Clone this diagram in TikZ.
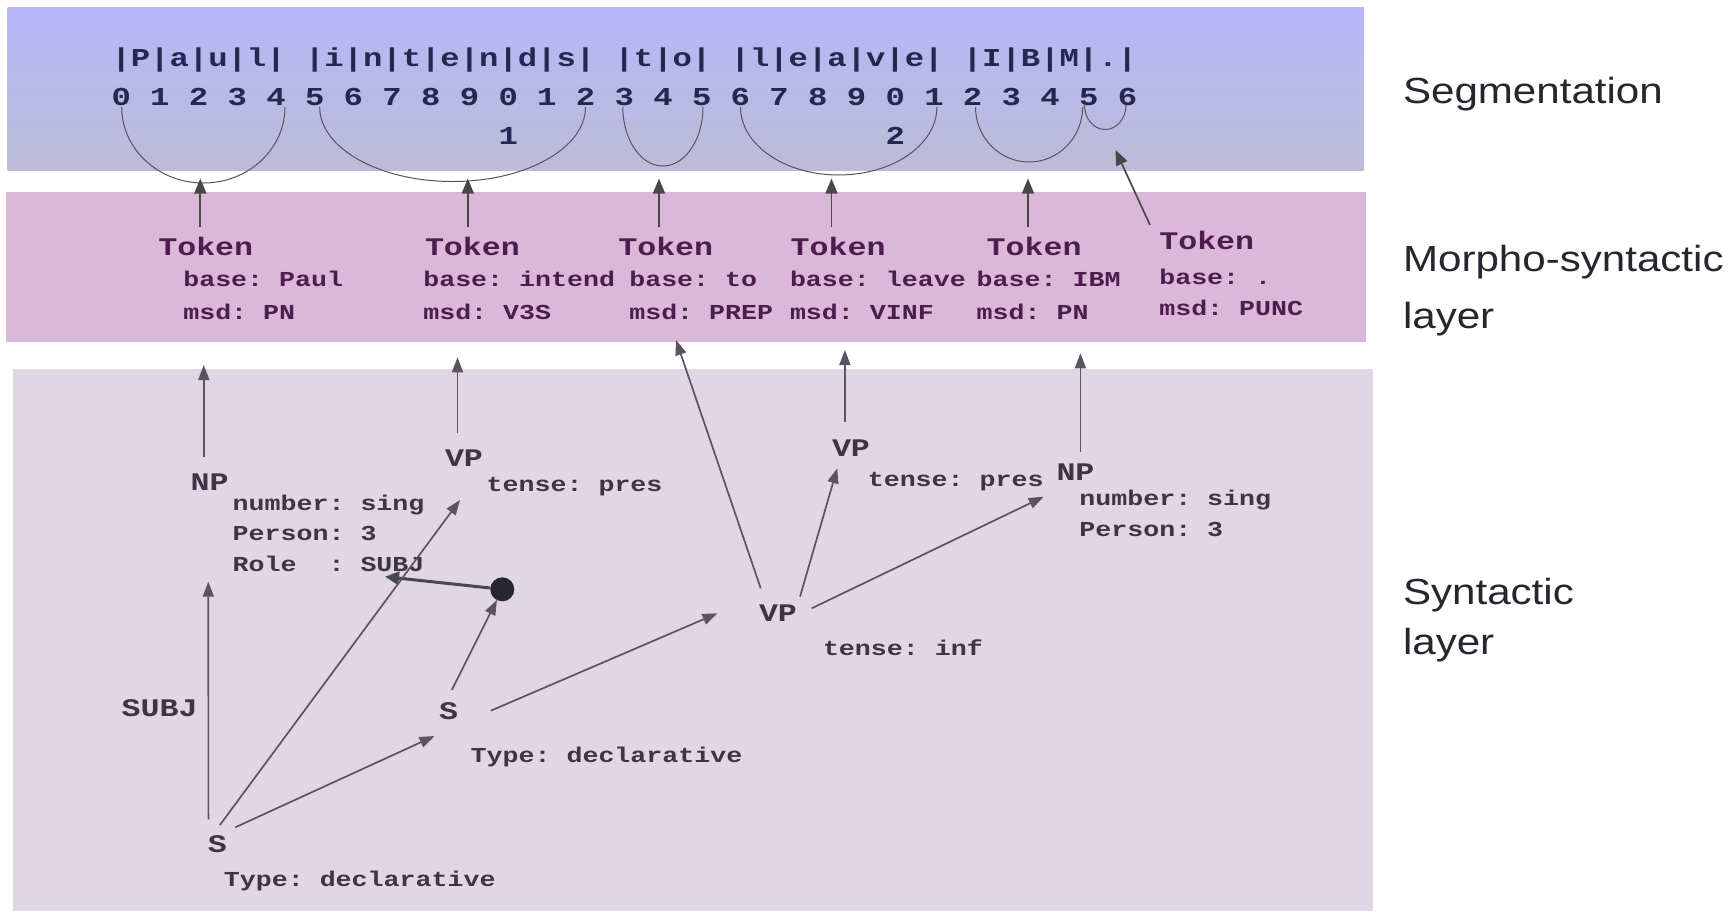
\documentclass[tikz,border=0pt]{standalone}
\usepackage{fontspec}
\usetikzlibrary{arrows.meta}
\setmainfont{Liberation Sans}
\newfontfamily\labelfont[FakeStretch=1.16]{Liberation Sans}
\newfontfamily\codefont[FakeStretch=1.25]{Liberation Mono}
\frenchspacing

\definecolor{segtop}{RGB}{182,182,250}
\definecolor{segbot}{RGB}{188,188,214}
\definecolor{morphbg}{RGB}{219,184,218}
\definecolor{synbg}{RGB}{224,215,228}
\definecolor{segink}{RGB}{38,38,80}
\definecolor{morphink}{RGB}{77,30,77}
\definecolor{synink}{RGB}{62,52,70}
\definecolor{synedge}{RGB}{92,82,98}
\definecolor{tokedge}{RGB}{72,72,72}
\definecolor{arcink}{RGB}{85,85,95}
\definecolor{labelink}{RGB}{38,38,46}
\definecolor{dotink}{RGB}{40,38,46}

% half-elliptic segment arc: x1, x2, top y, depth
\newcommand\segarc[4]{%
  \draw[arcline] (#1,#3)
    .. controls (#1,{#3+0.5523*#4}) and ({(#1+#2)/2-0.5523*(#2-#1)/2},{#3+#4})
    .. ({(#1+#2)/2},{#3+#4})
    .. controls ({(#1+#2)/2+0.5523*(#2-#1)/2},{#3+#4}) and (#2,{#3+0.5523*#4})
    .. (#2,#3);}

\begin{document}
\begin{tikzpicture}[x=1pt,y=-1pt,
  txt/.style={anchor=base west, inner sep=0pt, outer sep=0pt},
  segtext/.style={txt, font=\codefont\bfseries\fontsize{25.8}{30}\selectfont, text=segink},
  tokhead/.style={txt, font=\codefont\bfseries\fontsize{25.3}{30}\selectfont, text=morphink},
  tokfeat/.style={txt, font=\codefont\bfseries\fontsize{21.3}{26}\selectfont, text=morphink},
  synhead/.style={txt, font=\codefont\bfseries\fontsize{25.3}{30}\selectfont, text=synink},
  synfeat/.style={txt, font=\codefont\bfseries\fontsize{21.3}{26}\selectfont, text=synink},
  layerlabel/.style={txt, font=\labelfont\fontsize{36.3}{44}\selectfont, text=labelink},
  arcline/.style={draw=arcink, line width=1pt},
  tokarrow/.style={draw=tokedge, line width=1.7pt, -{Triangle[length=15pt,width=12pt]}},
  synarrow/.style={draw=synedge, line width=1.7pt, -{Triangle[length=15pt,width=11pt]}},
  dotarrow/.style={draw=dotink!85!white, line width=3pt, -{Triangle[length=14pt,width=13pt]}},
  dotnode/.style={circle, fill=dotink, minimum size=24pt, inner sep=0pt, outer sep=0pt}
]
\useasboundingbox (0,0) rectangle (1733,911);
\fill[white] (0,0) rectangle (1733,911);

% layer bands
\shade[top color=segtop, bottom color=segbot] (7.5,7.5) rectangle (1364,170.5);
\fill[morphbg] (5.5,192) rectangle (1366,341.5);
\fill[synbg] (13,369) rectangle (1373,911);

% layer names
\node[layerlabel] (lseg) at (1403,103.3) {Segmentation};
\node[layerlabel] (lmorph1) at (1403,271.7) {Morpho-syntactic};
\node[layerlabel] (lmorph2) at (1403,328.3) {layer};
\node[layerlabel] (lsyn1) at (1403,604.5) {Syntactic};
\node[layerlabel] (lsyn2) at (1403,654) {layer};

% segmentation: characters and offsets
\node[segtext] (chars) at (111.5,66.5) {|P|a|u|l| |i|n|t|e|n|d|s| |t|o| |l|e|a|v|e| |I|B|M|.|};
\node[segtext] (digits) at (111.5,105.5) {0 1 2 3 4 5 6 7 8 9 0 1 2 3 4 5 6 7 8 9 0 1 2 3 4 5 6};
\node[segtext] (ten1) at (498.5,144.5) {1};
\node[segtext] (ten2) at (885.5,144.5) {2};

\segarc{121.7}{285}{107}{76}
\segarc{319.7}{585.5}{107}{74.5}
\segarc{622.8}{703}{107}{59}
\segarc{740.5}{936.9}{107}{68}
\segarc{975.5}{1082.6}{107}{55}
\segarc{1084.4}{1126}{105}{24.5}

% span anchors for the tokens
\coordinate (span1) at (200.3,178.5);
\coordinate (span2) at (467.8,178.5);
\coordinate (span3) at (659,178.5);
\coordinate (span4) at (831.5,178.5);
\coordinate (span5) at (1028,178.5);
\coordinate (span6) at (1115.5,150);

% tokens
\node[tokhead] (t1) at (158.3,255) {Token};
\node[tokfeat] (t1b) at (183.3,286.7) {base: Paul};
\node[tokfeat] (t1m) at (183.3,319) {msd: PN};

\node[tokhead] (t2) at (425,255) {Token};
\node[tokfeat] (t2b) at (423.3,286.7) {base: intend};
\node[tokfeat] (t2m) at (423.3,319) {msd: V3S};

\node[tokhead] (t3) at (618.3,255) {Token};
\node[tokfeat] (t3b) at (629.3,286.7) {base: to};
\node[tokfeat] (t3m) at (629.3,319) {msd: PREP};

\node[tokhead] (t4) at (790.7,255) {Token};
\node[tokfeat] (t4b) at (790,286.7) {base: leave};
\node[tokfeat] (t4m) at (790,319) {msd: VINF};

\node[tokhead] (t5) at (986.7,255) {Token};
\node[tokfeat] (t5b) at (976.7,286.7) {base: IBM};
\node[tokfeat] (t5m) at (976.7,319) {msd: PN};

\node[tokhead] (t6) at (1159.3,249.3) {Token};
\node[tokfeat] (t6b) at (1159.3,284.3) {base: .};
\node[tokfeat] (t6m) at (1159.3,315) {msd: PUNC};

\draw[tokarrow, shorten <=10pt] (span1 |- t1.north) -- (span1);
\draw[tokarrow, shorten <=10pt] (span2 |- t2.north) -- (span2);
\draw[tokarrow, shorten <=10pt] (span3 |- t3.north) -- (span3);
\draw[tokarrow, shorten <=10pt] (span4 |- t4.north) -- (span4);
\draw[tokarrow, shorten <=10pt] (span5 |- t5.north) -- (span5);
\coordinate (t6tail) at (1150,225);
\draw[tokarrow] (t6tail) -- (span6);

% syntactic structures
\node[synhead] (npL) at (190.7,490.7) {NP};
\node[synfeat] (npL1) at (232.7,510) {number: sing};
\node[synfeat] (npL2) at (232.7,540.5) {Person: 3};
\node[synfeat] (npL3) at (232.7,571.5) {Role\ \ : SUBJ};

\node[synhead] (vpL) at (445,466.7) {VP};
\node[synfeat] (vpLf) at (486.7,491.7) {tense: pres};

\node[dotnode] (dot) at (502.3,589.3) {};

\node[synhead] (sIn) at (439,719.3) {S};
\node[synfeat] (sInf) at (470.7,762.7) {Type: declarative};

\node[synhead] (sOut) at (207.8,852.7) {S};
\node[synfeat] (sOutf) at (223.9,886.7) {Type: declarative};

\node[synhead] (subj) at (121.7,716) {SUBJ};

\node[synhead] (vpInf) at (759,621.7) {VP};
\node[synfeat] (vpInff) at (823,655) {tense: inf};

\node[synhead] (vpR) at (832,456.7) {VP};
\node[synfeat] (vpRf) at (867.8,486.7) {tense: pres};

\node[synhead] (npR) at (1056.5,480.7) {NP};
\node[synfeat] (npR1) at (1079.4,505) {number: sing};
\node[synfeat] (npR2) at (1079.4,536.7) {Person: 3};

% ports of the syntactic nodes
\coordinate (npL-top) at (203.8,456.7);   \coordinate (t1-in) at (203.8,365);
\coordinate (vpL-top) at (457.5,432.7);   \coordinate (t2-in) at (457.5,357.3);
\coordinate (vpR-top) at (844.9,421.7);   \coordinate (t4-in) at (844.9,350);
\coordinate (npR-top) at (1080.4,451.7);  \coordinate (t5-in) at (1080.4,353.3);
\coordinate (vpInf-a) at (760.7,588.3);   \coordinate (t3-in) at (676,340);
\coordinate (vpInf-b) at (800,596.7);     \coordinate (vpR-in) at (837.2,468.3);
\coordinate (vpInf-c) at (811.7,608.3);   \coordinate (npR-in) at (1043.7,496.7);
\coordinate (sIn-a) at (490.8,710.7);     \coordinate (vpInf-in) at (717.5,613.3);
\coordinate (sIn-b) at (451.8,690);
\coordinate (role-in) at (385,576.7);
\coordinate (sOut-a) at (208.4,819.3);    \coordinate (npL-in) at (208.3,581.7);
\coordinate (sOut-b) at (219.9,825);      \coordinate (vpL-in) at (460,500);
\coordinate (sOut-c) at (235.3,827.3);    \coordinate (sIn-in) at (434.5,736);

\draw[synarrow] (npL-top) -- (t1-in);
\draw[synarrow] (vpL-top) -- (t2-in);
\draw[synarrow] (vpR-top) -- (t4-in);
\draw[synarrow] (npR-top) -- (t5-in);
\draw[synarrow] (vpInf-a) -- (t3-in);
\draw[synarrow] (vpInf-b) -- (vpR-in);
\draw[synarrow] (vpInf-c) -- (npR-in);
\draw[synarrow] (sIn-a) -- (vpInf-in);
\draw[synarrow] (sIn-b) -- (dot);
\draw[dotarrow] (dot) -- (role-in);
\draw[synarrow] (sOut-a) -- (npL-in);
\draw[synarrow] (sOut-b) -- (vpL-in);
\draw[synarrow] (sOut-c) -- (sIn-in);
\end{tikzpicture}
\end{document}
